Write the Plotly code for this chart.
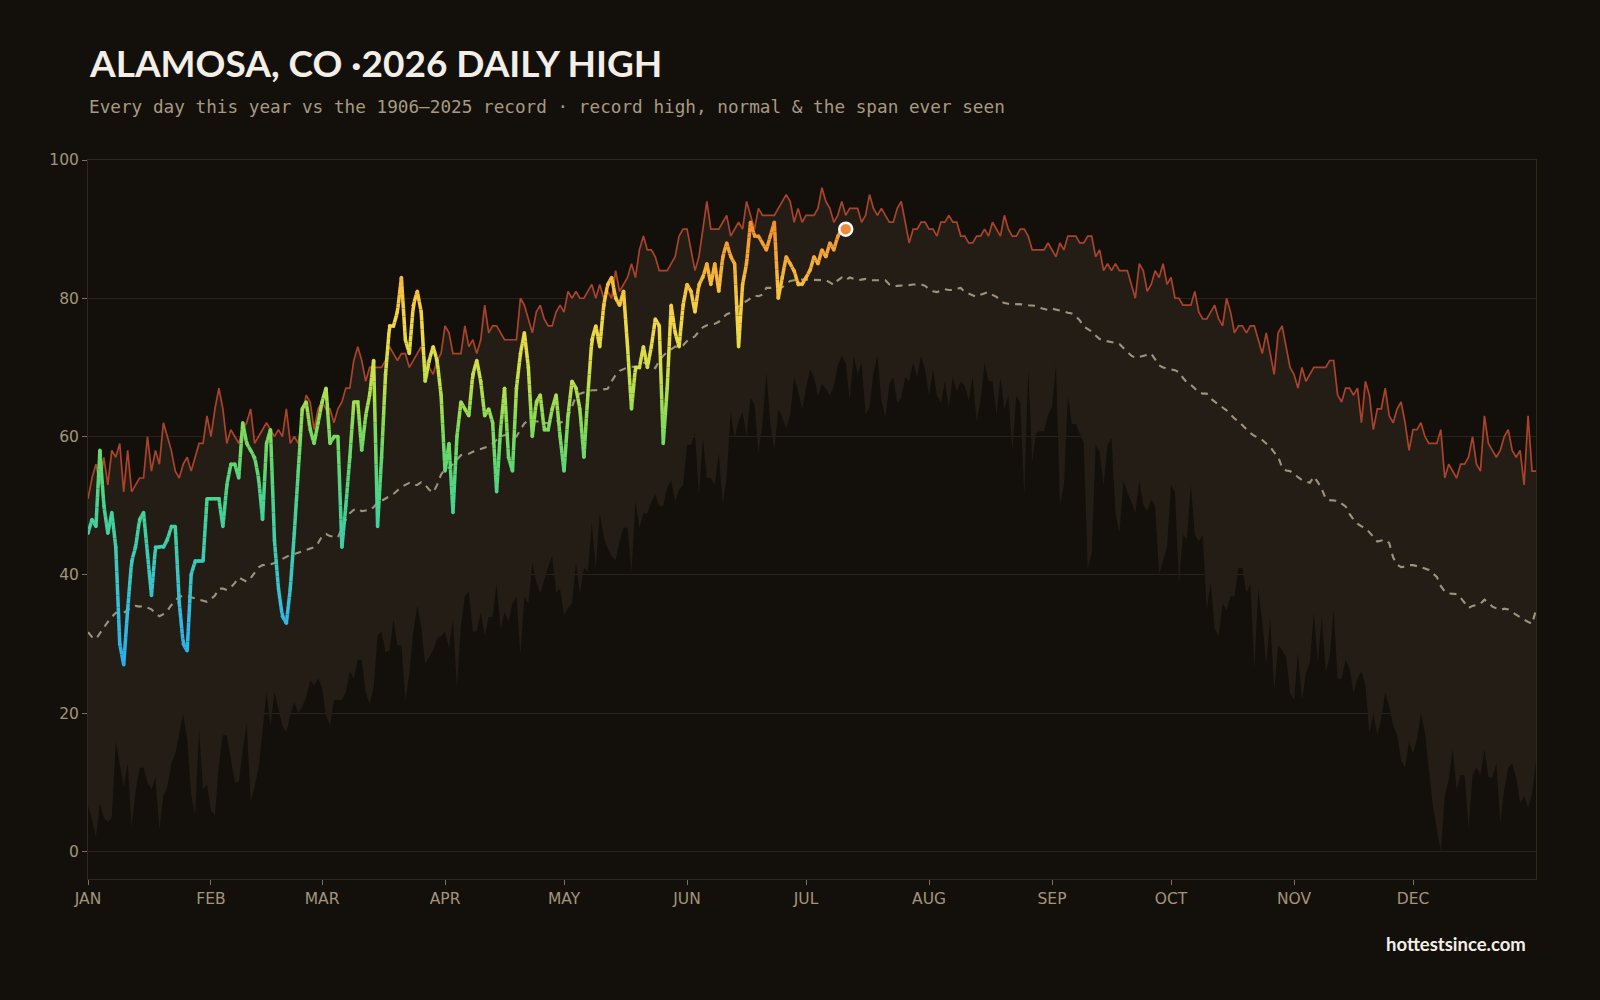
import plotly.graph_objects as go
from plotly.colors import sample_colorscale

# ---------------- data ----------------
MONTHS = ["JAN", "FEB", "MAR", "APR", "MAY", "JUN", "JUL", "AUG", "SEP", "OCT", "NOV", "DEC"]
MONTH_START_DAY = [0, 31, 59, 90, 120, 151, 181, 212, 243, 273, 304, 334]
Y_TICKS = [0, 20, 40, 60, 80, 100]

record_high = [
    51, 54, 56, 53, 57, 53, 58, 57, 59, 52,
    58, 52, 53, 54, 54, 60, 55, 58, 56, 62,
    60, 58, 55, 54, 56, 57, 55, 57, 59, 59,
    63, 60, 64, 67, 64, 59, 61, 60, 59, 61,
    62, 64, 59, 60, 61, 62, 61, 60, 61, 60,
    64, 59, 60, 59, 63, 66, 65, 61, 64, 65,
    64, 64, 62, 64, 65, 67, 67, 71, 73, 71,
    68, 70, 70, 70, 70, 71, 73, 72, 71, 72,
    72, 70, 71, 72, 73, 71, 70, 69, 71, 72,
    76, 75, 72, 72, 72, 76, 73, 74, 72, 74,
    79, 75, 76, 76, 75, 74, 74, 74, 74, 80,
    79, 77, 75, 78, 79, 77, 76, 76, 78, 79,
    78, 81, 80, 81, 80, 80, 81, 82, 80, 82,
    80, 81, 80, 84, 81, 82, 83, 85, 83, 87,
    89, 87, 87, 86, 84, 84, 84, 85, 86, 89,
    90, 90, 87, 84, 86, 90, 94, 90, 90, 90,
    91, 92, 89, 90, 91, 90, 94, 92, 90, 93,
    92, 92, 92, 92, 93, 94, 95, 94, 91, 93,
    91, 92, 92, 92, 93, 96, 94, 93, 91, 92,
    94, 92, 93, 93, 93, 91, 92, 95, 93, 92,
    93, 92, 91, 91, 93, 94, 91, 88, 90, 90,
    91, 91, 90, 90, 89, 91, 91, 92, 91, 91,
    89, 89, 88, 88, 89, 89, 90, 89, 91, 90,
    89, 92, 90, 89, 89, 90, 90, 89, 87, 87,
    87, 87, 88, 87, 86, 88, 87, 89, 89, 89,
    88, 88, 89, 89, 86, 87, 84, 85, 84, 85,
    84, 84, 84, 82, 80, 85, 84, 81, 82, 84,
    83, 85, 82, 83, 80, 80, 79, 79, 79, 81,
    78, 77, 77, 78, 79, 77, 76, 80, 78, 75,
    76, 76, 75, 76, 76, 74, 72, 75, 72, 69,
    75, 76, 73, 70, 69, 67, 70, 68, 69, 70,
    70, 70, 70, 71, 71, 66, 65, 67, 67, 66,
    67, 62, 68, 66, 61, 64, 64, 67, 63, 62,
    64, 65, 62, 58, 61, 61, 62, 60, 59, 59,
    59, 61, 54, 56, 55, 54, 56, 56, 57, 60,
    56, 55, 63, 59, 58, 57, 58, 60, 61, 58,
    57, 58, 53, 63, 55, 55,
]

normal = [
    31.7, 31.0, 30.7, 31.6, 32.4, 33.2, 33.9, 34.5, 34.4, 34.5,
    34.9, 35.3, 35.5, 35.4, 35.5, 35.3, 35.0, 34.4, 34.0, 34.3,
    34.8, 35.6, 36.3, 36.8, 37.0, 36.9, 36.8, 36.6, 36.4, 36.2,
    36.1, 36.5, 37.0, 38.0, 38.0, 37.8, 38.2, 38.8, 39.6, 39.3,
    39.0, 39.5, 40.3, 41.1, 41.4, 41.4, 41.5, 41.7, 42.0, 42.3,
    42.7, 42.9, 43.0, 43.2, 43.5, 43.6, 43.8, 44.0, 44.6, 45.6,
    45.9, 45.6, 45.5, 45.4, 46.8, 48.0, 48.9, 49.4, 49.6, 49.2,
    49.3, 49.3, 49.8, 50.4, 50.7, 51.0, 51.3, 51.7, 52.2, 52.7,
    53.0, 53.3, 53.0, 53.0, 53.4, 53.0, 52.3, 51.9, 53.0, 54.5,
    55.3, 55.5, 56.0, 56.6, 57.3, 57.5, 57.5, 57.8, 58.0, 58.1,
    58.4, 58.6, 59.0, 59.5, 60.0, 60.2, 60.3, 60.1, 60.0, 61.0,
    61.9, 62.4, 62.3, 62.2, 62.0, 61.9, 61.9, 62.2, 62.4, 62.0,
    62.2, 62.9, 64.5, 65.8, 66.2, 66.4, 66.6, 66.7, 66.7, 66.8,
    66.9, 66.9, 68.0, 68.9, 69.5, 69.8, 70.0, 70.1, 70.1, 70.1,
    70.6, 70.8, 70.2, 69.9, 71.0, 71.7, 72.2, 72.6, 73.0, 73.0,
    73.2, 73.8, 74.2, 74.5, 75.2, 75.8, 76.1, 76.2, 76.3, 76.6,
    77.1, 77.7, 77.9, 78.0, 78.8, 79.3, 79.6, 80.0, 80.4, 80.3,
    80.5, 81.5, 81.5, 81.4, 81.5, 81.6, 82.1, 82.5, 82.6, 82.7,
    82.7, 82.7, 82.7, 82.7, 82.7, 82.7, 82.6, 82.3, 81.9, 82.6,
    83.0, 82.6, 83.0, 82.8, 82.6, 82.7, 82.8, 82.6, 82.6, 82.6,
    82.6, 82.6, 82.0, 81.7, 81.8, 81.8, 81.9, 81.9, 82.0, 82.0,
    82.0, 81.8, 81.3, 81.0, 80.9, 81.1, 81.3, 81.2, 81.2, 81.4,
    81.5, 80.9, 80.7, 80.4, 80.2, 80.5, 80.7, 80.9, 80.5, 80.2,
    79.6, 79.3, 79.2, 79.2, 79.2, 79.2, 79.1, 79.0, 78.9, 78.9,
    78.6, 78.4, 78.3, 78.5, 78.4, 78.2, 78.1, 77.9, 77.8, 77.4,
    76.8, 75.9, 75.5, 75.2, 74.6, 74.1, 73.9, 73.8, 73.7, 73.5,
    73.4, 72.8, 72.2, 71.7, 71.4, 71.5, 71.6, 71.8, 72.0, 71.2,
    70.3, 70.0, 69.8, 69.7, 69.6, 69.3, 68.5, 67.8, 67.5, 67.0,
    66.4, 66.2, 66.2, 65.5, 65.0, 64.6, 64.2, 63.8, 63.2, 62.6,
    62.2, 61.6, 61.1, 60.5, 60.1, 59.8, 59.5, 59.0, 58.5, 57.7,
    57.1, 55.5, 55.1, 55.0, 54.6, 54.2, 53.7, 53.5, 53.3, 54.2,
    53.4, 52.4, 51.0, 50.8, 50.8, 50.7, 50.3, 49.9, 48.8, 48.0,
    47.4, 47.0, 46.8, 46.2, 45.5, 44.8, 45.0, 45.1, 44.6, 42.5,
    41.5, 41.1, 41.2, 41.4, 41.4, 41.3, 41.1, 40.9, 40.7, 40.2,
    39.7, 38.4, 37.6, 37.3, 37.2, 37.2, 36.7, 36.0, 35.2, 35.5,
    35.6, 35.8, 36.4, 36.0, 35.4, 35.1, 34.9, 35.1, 35.0, 34.6,
    34.2, 33.8, 33.5, 33.2, 32.9, 34.9,
]

record_low = [
    6.6, 4.6, 2.2, 7.0, 4.9, 4.2, 4.9, 15.8, 12.7, 9.3,
    12.7, 3.5, 8.7, 12.1, 12.1, 10.0, 9.0, 10.7, 3.2, 8.0,
    9.3, 12.7, 14.1, 16.8, 19.9, 16.2, 8.3, 5.2, 17.5, 9.0,
    9.7, 5.9, 5.2, 12.7, 16.8, 16.8, 13.4, 10.0, 10.0, 14.8,
    18.5, 7.3, 9.3, 12.1, 17.5, 23.0, 18.2, 23.0, 20.6, 18.2,
    17.2, 19.9, 21.6, 19.9, 20.9, 22.3, 24.7, 24.0, 25.0, 23.7,
    19.6, 18.2, 21.9, 21.9, 21.9, 23.0, 26.0, 25.0, 27.7, 27.7,
    23.0, 21.3, 23.7, 31.2, 31.8, 28.8, 29.1, 33.5, 29.8, 29.8,
    21.9, 25.7, 31.8, 35.6, 32.5, 27.1, 28.1, 29.1, 30.8, 31.2,
    31.8, 29.4, 33.5, 23.7, 32.5, 36.9, 37.6, 31.8, 31.8, 34.6,
    31.2, 33.9, 33.9, 38.7, 32.2, 34.6, 33.2, 35.9, 36.9, 28.4,
    36.9, 35.9, 41.7, 39.0, 37.3, 39.3, 41.2, 42.7, 37.5, 38.0,
    34.2, 35.2, 35.9, 41.7, 37.3, 41.0, 40.4, 47.5, 41.0, 48.9,
    45.5, 43.8, 42.7, 42.1, 44.8, 46.8, 46.8, 40.4, 50.6, 46.8,
    48.9, 48.9, 50.6, 51.6, 49.9, 49.9, 52.6, 53.6, 50.6, 52.3,
    53.0, 58.8, 58.8, 60.5, 51.6, 59.8, 54.0, 54.0, 53.0, 57.7,
    50.2, 54.3, 63.5, 59.8, 62.2, 63.5, 60.1, 65.6, 64.6, 57.7,
    61.8, 69.3, 61.8, 58.1, 63.9, 62.8, 61.1, 63.2, 68.6, 66.6,
    63.9, 66.9, 69.7, 68.6, 65.9, 67.6, 66.9, 65.9, 67.3, 70.3,
    71.7, 70.7, 65.2, 71.7, 69.0, 70.7, 63.2, 64.2, 69.3, 71.7,
    65.2, 62.8, 67.6, 68.6, 64.9, 65.6, 68.6, 68.0, 70.7, 68.6,
    71.7, 69.7, 65.9, 69.7, 65.9, 64.9, 68.0, 64.2, 68.6, 66.6,
    68.0, 67.3, 65.2, 68.6, 62.2, 65.2, 70.7, 68.0, 68.0, 63.2,
    68.6, 63.9, 65.9, 58.1, 65.9, 64.9, 51.6, 69.7, 56.4, 60.5,
    60.8, 60.8, 63.2, 64.2, 70.3, 50.2, 53.0, 65.9, 61.8, 61.8,
    60.5, 59.1, 41.0, 43.1, 58.8, 57.7, 53.0, 58.8, 59.8, 48.9,
    46.1, 53.6, 51.9, 50.6, 48.9, 53.6, 50.2, 49.2, 50.9, 49.9,
    40.0, 42.1, 44.1, 53.0, 51.9, 38.7, 45.8, 45.1, 53.0, 45.8,
    44.8, 45.8, 34.9, 39.0, 32.2, 31.2, 35.9, 34.9, 36.9, 36.9,
    41.0, 41.0, 37.3, 38.7, 26.4, 38.0, 33.2, 27.1, 33.7, 23.3,
    29.8, 29.1, 28.1, 23.0, 21.9, 28.8, 21.9, 25.7, 27.4, 34.6,
    27.4, 33.9, 26.0, 28.1, 34.9, 25.0, 25.0, 27.7, 26.4, 23.0,
    25.0, 26.0, 24.0, 17.2, 19.9, 16.8, 19.2, 23.0, 20.9, 18.2,
    16.8, 13.1, 12.1, 15.8, 14.1, 16.2, 19.9, 17.2, 12.1, 6.6,
    3.2, 0.1, 8.0, 10.4, 14.8, 9.0, 11.0, 11.0, 3.2, 11.0,
    12.1, 11.0, 14.8, 10.7, 10.7, 12.7, 4.2, 9.0, 12.1, 12.7,
    10.7, 7.0, 8.0, 6.3, 8.3, 13.1,
]

high_2026 = [
    46, 48, 47, 58, 50, 46, 49, 44, 30, 27,
    35, 42, 44, 48, 49, 43, 37, 44, 44, 44,
    45, 47, 47, 36, 30, 29, 40, 42, 42, 42,
    51, 51, 51, 51, 47, 53, 56, 56, 54, 62,
    59, 58, 57, 54, 48, 59, 61, 45, 38, 34,
    33, 38, 46, 55, 64, 65, 61, 59, 62, 65,
    67, 59, 60, 60, 44, 50, 57, 65, 65, 58,
    63, 66, 71, 47, 57, 69, 76, 76, 78, 83,
    74, 72, 79, 81, 78, 68, 71, 73, 71, 66,
    55, 59, 49, 60, 65, 64, 63, 69, 71, 68,
    63, 64, 62, 52, 61, 67, 57, 55, 67, 72,
    75, 70, 60, 65, 66, 61, 61, 64, 66, 60,
    55, 63, 68, 67, 64, 57, 66, 74, 76, 73,
    79, 82, 83, 80, 79, 81, 73, 64, 70, 70,
    73, 70, 73, 77, 76, 59, 67, 79, 75, 73,
    79, 82, 81, 78, 82, 83, 85, 82, 85, 81,
    86, 88, 86, 85, 73, 82, 85, 91, 89, 89,
    88, 87, 89, 91, 80, 83, 86, 85, 84, 82,
    82, 83, 84, 86, 85, 87, 86, 88, 87, 89,
    90, 90,
]

# temperature -> colour mapping for the 2026 line
TEMP_STOPS = [27, 35, 40, 45, 50, 56, 62, 67, 72, 77, 82, 87, 91]
TEMP_COLORS = ["#2aaee8", "#34bde0", "#3ac8c4", "#3fceaa", "#47d392", "#5fd872",
               "#86dc58", "#b5e04c", "#e0de48", "#f5d646", "#f7bd3e", "#f5a334", "#f28f32"]

# ---------------- styling ----------------
BG = "#13100c"
BAND = "#241d16"
GRID = "#28221b"
FRAME = "#2e281f"
TICK_COL = "#a39578"
RED = "#a9442a"
NORMAL_COL = "rgba(172,160,136,0.9)"

clim_days = list(range(len(record_high)))
days_2026 = list(range(len(high_2026)))

tmin, tmax = TEMP_STOPS[0], TEMP_STOPS[-1]
colorscale = [[(v - tmin) / (tmax - tmin), c] for v, c in zip(TEMP_STOPS, TEMP_COLORS)]


def temp_color(v):
    t = min(1.0, max(0.0, (v - tmin) / (tmax - tmin)))
    return sample_colorscale(colorscale, [t])[0]


fig = go.Figure()

# span ever seen (band between lowest and highest daily high)
fig.add_trace(go.Scatter(x=clim_days, y=record_low, mode="lines",
                         line=dict(width=0, color=BAND), hoverinfo="skip", showlegend=False))
fig.add_trace(go.Scatter(x=clim_days, y=record_high, mode="lines", fill="tonexty",
                         fillcolor=BAND, line=dict(width=1.7, color=RED),
                         hoverinfo="skip", showlegend=False))

# normal
fig.add_trace(go.Scatter(x=clim_days, y=normal, mode="lines",
                         line=dict(width=2.1, color=NORMAL_COL, dash="7px,6px"),
                         hoverinfo="skip", showlegend=False))

# 2026 line, coloured by temperature (pieces grouped by colour bin)
K = 8
bins = {}
last_bin = None
for i in range(len(high_2026) - 1):
    x0, x1 = days_2026[i], days_2026[i + 1]
    y0, y1 = high_2026[i], high_2026[i + 1]
    for k in range(K):
        ta, tb = k / K, (k + 1) / K
        xa, xb = x0 + (x1 - x0) * ta, x0 + (x1 - x0) * tb
        ya, yb = y0 + (y1 - y0) * ta, y0 + (y1 - y0) * tb
        b = int(round((ya + yb) / 2))
        xs, ys = bins.setdefault(b, ([], []))
        if last_bin == b and xs:
            xs.append(xb)
            ys.append(yb)
        else:
            if xs:
                xs.append(None)
                ys.append(None)
            xs.extend([xa, xb])
            ys.extend([ya, yb])
        last_bin = b

for b in sorted(bins):
    xs, ys = bins[b]
    fig.add_trace(go.Scatter(x=xs, y=ys, mode="lines",
                             line=dict(width=3.5, color=temp_color(b)),
                             hoverinfo="skip", showlegend=False))

# round joints
fig.add_trace(go.Scatter(x=days_2026, y=high_2026, mode="markers",
                         marker=dict(size=3.5, color=high_2026, colorscale=colorscale,
                                     cmin=tmin, cmax=tmax, line=dict(width=0)),
                         hoverinfo="skip", showlegend=False))

# latest day marker
fig.add_trace(go.Scatter(x=[days_2026[-1]], y=[high_2026[-1]], mode="markers",
                         marker=dict(size=13, color="#ee8a3a", line=dict(color="#ffffff", width=2.5)),
                         hoverinfo="skip", showlegend=False))

fig.update_layout(
    width=1600, height=1000,
    paper_bgcolor=BG, plot_bgcolor=BG,
    margin=dict(l=88, r=64, t=160, b=121),
    showlegend=False,
    font=dict(family="DejaVu Sans", color=TICK_COL),
    xaxis=dict(range=[0, 365], tickmode="array", tickvals=MONTH_START_DAY, ticktext=MONTHS,
               showgrid=False, zeroline=False, showline=True, linecolor=FRAME, linewidth=1,
               mirror=True, ticks="outside", ticklen=5, tickcolor="#7d715c", tickwidth=1,
               tickfont=dict(family="DejaVu Sans", size=15.5, color=TICK_COL)),
    yaxis=dict(range=[-4, 100], tickmode="array", tickvals=Y_TICKS,
               showgrid=True, gridcolor=GRID, gridwidth=1, zeroline=False,
               showline=True, linecolor=FRAME, linewidth=1, mirror=True,
               ticks="outside", ticklen=5, tickcolor="#7d715c", tickwidth=1,
               tickfont=dict(family="DejaVu Sans", size=15.5, color=TICK_COL)),
    annotations=[
        dict(text="<b>ALAMOSA, CO ·2026 DAILY HIGH</b>", xref="paper", yref="paper",
             x=-0.001, y=1.1355, xanchor="left", yanchor="middle", showarrow=False,
             font=dict(family="Lato", size=37, color="#f3efe6")),
        dict(text="Every day this year vs the 1906–2025 record · record high, normal &amp; the span ever seen",
             xref="paper", yref="paper", x=-0.001, y=1.0744, xanchor="left", yanchor="middle",
             showarrow=False, font=dict(family="DejaVu Sans Mono", size=17.7, color="#a89a80")),
        dict(text="<b>hottestsince.com</b>", xref="paper", yref="paper",
             x=0.9945, y=-0.0903, xanchor="right", yanchor="middle", showarrow=False,
             font=dict(family="Lato", size=18.5, color="#f3efe6")),
    ],
)

fig.write_html("out.html")
